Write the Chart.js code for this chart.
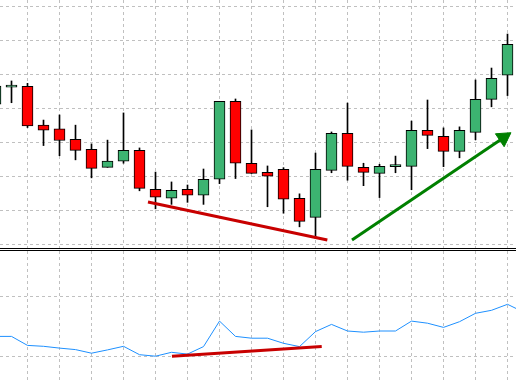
<!DOCTYPE html>
<html>
<head>
<meta charset="utf-8">
<script src="https://cdn.jsdelivr.net/npm/chart.js@4.4.1/dist/chart.umd.min.js"></script>
<style>
  html, body { margin: 0; padding: 0; background: #ffffff; width: 516px; height: 382px; overflow: hidden; }
  #topPane { position: absolute; left: 0; top: 0; width: 516px; height: 248px; border-bottom: 1px solid #000; }
  #botPane { position: absolute; left: 0; top: 250px; width: 516px; height: 131px; border-top: 1px solid #000; }
  canvas { display: block; }
</style>
</head>
<body>
<div id="topPane"><canvas id="priceChart" width="516" height="248"></canvas></div>
<div id="botPane"><canvas id="indChart" width="516" height="131"></canvas></div>
<script>
// ---- candles (bar index, OHLC) ----
const candleX = [-1, 0, 1, 2, 3, 4, 5, 6, 7, 8, 9, 10, 11, 12, 13, 14, 15, 16, 17, 18, 19, 20, 21, 22, 23, 24, 25, 26, 27, 28, 29, 30, 31];
const opens  = [141.3, 146.3, 146.5, 135.1, 134.0, 130.9, 128.0, 122.7, 124.5, 127.7, 116.2, 113.6, 116.2, 114.5, 119.2, 142.1, 123.9, 121.2, 122.1, 113.6, 108.0, 121.8, 132.7, 122.7, 120.9, 122.9, 123.0, 133.6, 131.8, 127.4, 133.0, 142.7, 149.8];
const highs  = [146.6, 148.1, 147.4, 136.6, 138.1, 135.1, 129.6, 130.7, 138.7, 128.4, 121.3, 118.4, 117.5, 122.2, 142.1, 142.8, 133.7, 123.1, 122.6, 114.9, 126.9, 133.1, 141.6, 123.9, 123.6, 126.0, 136.3, 142.5, 134.3, 134.6, 148.4, 151.9, 161.9];
const lows   = [141.3, 141.7, 134.4, 129.1, 126.1, 124.9, 119.6, 122.7, 123.9, 115.8, 110.5, 111.8, 112.4, 111.8, 117.9, 119.4, 120.9, 111.1, 109.2, 105.2, 101.8, 121.1, 118.9, 117.3, 113.8, 121.1, 116.1, 128.2, 122.9, 125.5, 130.8, 140.5, 143.8];
const closes = [146.6, 146.3, 134.9, 133.6, 130.6, 127.7, 122.4, 124.5, 127.7, 116.5, 113.9, 115.9, 114.5, 119.2, 142.1, 123.9, 120.9, 120.1, 113.3, 106.8, 122.1, 132.7, 123.0, 121.2, 123.0, 122.9, 133.6, 132.1, 127.4, 133.6, 142.7, 148.9, 158.9];

// ---- indicator (sub window) ----
const indicatorX = [-1, 0, 1, 2, 3, 4, 5, 6, 7, 8, 9, 10, 11, 12, 13, 14, 15, 16, 17, 18, 19, 20, 21, 22, 23, 24, 25, 26, 27, 28, 29, 30, 31, 32];
const indicatorY = [36.7, 36.7, 33.7, 33.4, 32.8, 32.3, 31.1, 32.2, 33.4, 30.6, 30.1, 31.4, 30.8, 33.3, 41.8, 36.7, 36.1, 36.1, 34.4, 33.3, 38.3, 40.7, 38.5, 38.1, 38.5, 38.5, 41.8, 41.1, 39.7, 41.6, 44.4, 45.4, 47.4, 44.8];

// ---- drawn annotations ----
const priceDivX = [8.53, 19.74];
const priceDivY = [112.5, 101.3];
const trendArrowX = [21.28, 30.75];
const trendArrowY = [101.3, 131.4];
const indDivX = [10.03, 19.39];
const indDivY = [30.1, 33.3];

// ---- grid levels ----
const timeGridTicks = [1, 3, 5, 7, 9, 11, 13, 15, 17, 19, 21, 23, 25, 27, 29, 31];
const priceGridTicks = [100, 110, 120, 130, 140, 150, 160, 170];
const indicatorGridTicks = [30, 50];

const GRID = '#c0c0c0';
const UP = '#3cb371';
const DOWN = '#ff0000';

function xScale() {
  return {
    type: 'linear', min: -0.71875, max: 31.53125, offset: false,
    grid: { color: GRID, lineWidth: 1, drawTicks: false, offset: false },
    border: { display: false, dash: [3, 3] },
    ticks: { display: false },
    afterBuildTicks: (s) => { s.ticks = timeGridTicks.map(v => ({ value: v })); }
  };
}
function yScale(min, max, ticks) {
  return {
    type: 'linear', min: min, max: max,
    grid: { color: GRID, lineWidth: 1, drawTicks: false },
    border: { display: false, dash: [3, 3] },
    ticks: { display: false },
    afterBuildTicks: (s) => { s.ticks = ticks.map(v => ({ value: v })); }
  };
}
const pts = (xs, ys) => xs.map((x, i) => ({ x: x, y: ys[i] }));

const common = {
  responsive: false, animation: false, devicePixelRatio: 1,
  layout: { padding: 0, autoPadding: false },
  plugins: { legend: { display: false }, tooltip: { enabled: false } },
  events: []
};

new Chart(document.getElementById('priceChart'), {
  type: 'bar',
  data: {
    datasets: [
      {
        type: 'line', order: 0,
        data: pts(priceDivX, priceDivY),
        borderColor: '#c80000', borderWidth: 3, pointRadius: 0, tension: 0
      },
      {
        type: 'line', order: 0,
        data: pts(trendArrowX, trendArrowY),
        borderColor: '#008000', borderWidth: 3, tension: 0,
        pointRadius: [0, 9], pointStyle: 'triangle', pointRotation: [0, 56],
        pointBackgroundColor: '#008000', pointBorderColor: '#008000', pointBorderWidth: 1
      },
      {
        type: 'bar', order: 1, grouped: false,
        data: candleX.map((x, i) => ({ x: x, y: [Math.min(opens[i], closes[i]), Math.max(opens[i], closes[i])] })),
        backgroundColor: candleX.map((x, i) => closes[i] >= opens[i] ? UP : DOWN),
        borderColor: '#000000', borderWidth: 1, borderSkipped: false,
        barThickness: 11, minBarLength: 2
      },
      {
        type: 'bar', order: 2, grouped: false,
        data: candleX.map((x, i) => ({ x: x, y: [lows[i], highs[i]] })),
        backgroundColor: '#000000', borderWidth: 0, barThickness: 1
      }
    ]
  },
  options: Object.assign({}, common, {
    scales: {
      x: xScale(),
      y: yScale(100 + (244.5 - 248) / 3.4, 100 + 244.5 / 3.4, priceGridTicks)
    }
  })
});

new Chart(document.getElementById('indChart'), {
  type: 'line',
  data: {
    datasets: [
      {
        order: 0,
        data: pts(indDivX, indDivY),
        borderColor: '#c80000', borderWidth: 3, pointRadius: 0, tension: 0
      },
      {
        order: 1,
        data: pts(indicatorX, indicatorY),
        borderColor: '#1e90ff', borderWidth: 1, pointRadius: 0, tension: 0
      }
    ]
  },
  options: Object.assign({}, common, {
    scales: {
      x: xScale(),
      y: yScale(30 + (105.5 - 131) / 3, 30 + 105.5 / 3, indicatorGridTicks)
    }
  })
});
</script>
</body>
</html>
